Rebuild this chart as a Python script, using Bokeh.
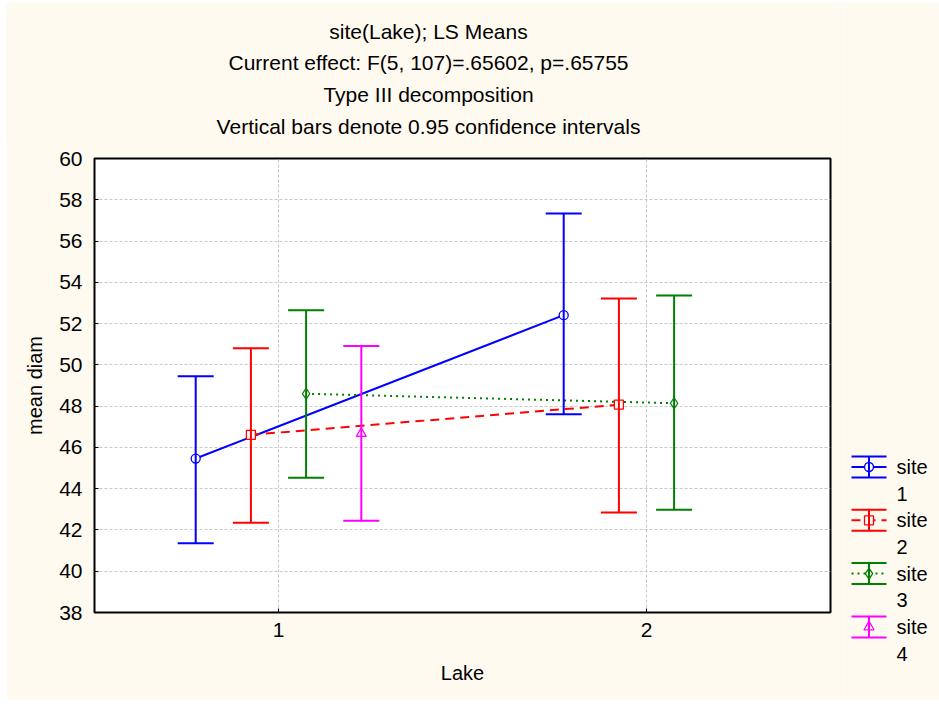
from bokeh.plotting import figure
from bokeh.models import (Range1d, FixedTicker, Whisker, TeeHead, ColumnDataSource)
from bokeh.transform import dodge
from bokeh.core.properties import value
from bokeh.embed import file_html
from bokeh.resources import INLINE

# ---------------- data ----------------
sites = [1, 2, 3, 4]
site_names = ["site", "site", "site", "site"]
site_nums = ["1", "2", "3", "4"]
site1_lake = [1, 2]
site1_mean = [45.46, 52.41]
site1_lower = [41.36, 47.61]
site1_upper = [49.45, 57.33]
site2_lake = [1, 2]
site2_mean = [46.61, 48.07]
site2_lower = [42.35, 42.84]
site2_upper = [50.80, 53.22]
site3_lake = [1, 2]
site3_mean = [48.60, 48.14]
site3_lower = [44.53, 42.98]
site3_upper = [52.65, 53.36]
site4_lake = [1]
site4_mean = [46.67]
site4_lower = [42.45]
site4_upper = [50.91]
x_ticks = [1, 2]
y_ticks = [38, 40, 42, 44, 46, 48, 50, 52, 54, 56, 58, 60]
titles = ["site(Lake); LS Means",
          "Current effect: F(5, 107)=.65602, p=.65755",
          "Type III decomposition",
          "Vertical bars denote 0.95 confidence intervals"]
x_label = "Lake"
y_label = "mean diam"

# ---------------- styles ----------------
FONT = "Liberation Sans"
CREAM = "#FFFAF0"
colors = ["#0000FF", "#FF0000", "#008000", "#FF00FF"]
dashes = ["solid", "9 6", "2 4", None]
markers = ["circle", "square", "diamond", "triangle"]
msizes = [9, 9, 11, 10]
offsets = [-0.225, -0.075, 0.075, 0.225]

# ---------------- main chart ----------------
p = figure(width=838, height=698, output_backend="svg", toolbar_location=None,
           title=None,
           x_range=Range1d(0.5, 2.5), y_range=Range1d(38, 60),
           min_border_left=88, min_border_right=14, min_border_top=156,
           min_border_bottom=88)
p.styles = {"position": "absolute", "left": "6px", "top": "2px"}
p.background_fill_color = "white"
p.border_fill_color = CREAM
p.outline_line_color = "black"
p.outline_line_width = 2

p.xaxis.ticker = FixedTicker(ticks=x_ticks)
p.yaxis.ticker = FixedTicker(ticks=y_ticks)
for ax in (p.xaxis[0], p.yaxis[0]):
    ax.axis_line_color = None
    ax.major_tick_in = 4
    ax.major_tick_out = 0
    ax.major_tick_line_color = "black"
    ax.major_tick_line_width = 1
    ax.minor_tick_line_color = None
    ax.major_label_text_font = FONT
    ax.major_label_text_font_size = "21px"
    ax.major_label_text_color = "black"
    ax.axis_label_text_font = FONT
    ax.axis_label_text_font_size = "20px"
    ax.axis_label_text_font_style = "normal"
    ax.axis_label_text_color = "black"
p.yaxis.major_label_standoff = 12
p.xaxis.major_label_standoff = 10
p.xaxis.axis_label = x_label
p.yaxis.axis_label = y_label
p.xaxis.axis_label_standoff = 22
p.yaxis.axis_label_standoff = 10

p.grid.grid_line_color = "#C8C8C8"
p.grid.grid_line_dash = "3 2"
p.grid.grid_line_width = 1
p.xgrid.ticker = FixedTicker(ticks=x_ticks)
p.ygrid.ticker = FixedTicker(ticks=y_ticks)

data = [
    (site1_lake, site1_mean, site1_lower, site1_upper),
    (site2_lake, site2_mean, site2_lower, site2_upper),
    (site3_lake, site3_mean, site3_lower, site3_upper),
    (site4_lake, site4_mean, site4_lower, site4_upper),
]
srcs = []
for i, (lk, mn, lo, up) in enumerate(data):
    src = ColumnDataSource(dict(lake=lk, mean=mn, lower=lo, upper=up))
    srcs.append(src)
    w = Whisker(source=src, base=dodge("lake", offsets[i], range=p.x_range),
                upper="upper", lower="lower", dimension="height",
                line_color=colors[i], line_width=2, level="glyph",
                upper_head=TeeHead(size=36, line_color=colors[i], line_width=2),
                lower_head=TeeHead(size=36, line_color=colors[i], line_width=2))
    p.add_layout(w)

for i, src in enumerate(srcs):
    if dashes[i] is not None:
        p.line(x=dodge("lake", offsets[i], range=p.x_range), y="mean", source=src,
               line_color=colors[i], line_width=2, line_dash=dashes[i])
for i, src in enumerate(srcs):
    p.scatter(x=dodge("lake", offsets[i], range=p.x_range), y="mean", source=src,
              marker=markers[i], size=msizes[i], fill_color="white",
              line_color=colors[i], line_width=1.3)

# ---------------- title block (four centred lines) ----------------
tt = figure(width=838, height=140, output_backend="svg", toolbar_location=None,
            title=None, x_range=Range1d(0, 838), y_range=Range1d(3.5, -0.9025),
            x_axis_type=None, y_axis_type=None,
            min_border_left=0, min_border_right=0, min_border_top=0, min_border_bottom=0)
tt.styles = {"position": "absolute", "left": "6px", "top": "2px"}
tt.outline_line_color = None
tt.background_fill_color = CREAM
tt.border_fill_color = CREAM
TITLE_X = 422
tt.text(x=[TITLE_X] * len(titles), y=list(range(len(titles))), text=titles,
        text_font=value(FONT), text_font_size="21px", text_align="center",
        text_baseline="middle", text_color="black")

# ---------------- legend panel ----------------
lg = figure(width=95, height=698, output_backend="svg", toolbar_location=None,
            title=None,
            x_range=Range1d(0, 95), y_range=Range1d(5.381, -7.715),
            x_axis_type=None, y_axis_type=None,
            min_border_left=0, min_border_right=0, min_border_top=0, min_border_bottom=0)
lg.styles = {"position": "absolute", "left": "844px", "top": "2px"}
lg.outline_line_color = None
lg.background_fill_color = CREAM
lg.border_fill_color = CREAM

ICON_X = 24.5
HALF = 17.5
CAP = 0.197
for i, s in enumerate(sites):
    lsrc = ColumnDataSource(dict(x=[ICON_X], y=[s], lo=[s - CAP], hi=[s + CAP]))
    lg.add_layout(Whisker(source=lsrc, base="x", upper="hi", lower="lo",
                          dimension="height", line_color=colors[i], line_width=2,
                          level="glyph",
                          upper_head=TeeHead(size=35, line_color=colors[i], line_width=2),
                          lower_head=TeeHead(size=35, line_color=colors[i], line_width=2)))
    if dashes[i] is not None:
        lg.segment(x0=[ICON_X - HALF], x1=[ICON_X + HALF], y0=[s], y1=[s],
                   line_color=colors[i], line_width=2, line_dash=dashes[i])
    lg.scatter(x=[ICON_X], y=[s], marker=markers[i], size=msizes[i],
               fill_color="white", line_color=colors[i], line_width=1.3)

lg.text(x=[52] * 4, y=sites, text=site_names, text_font=value(FONT),
        text_font_size="20px", text_baseline="middle", text_align="left",
        text_color="black")
lg.text(x=[52] * 4, y=[s + 0.5 for s in sites], text=site_nums, text_font=value(FONT),
        text_font_size="20px", text_baseline="middle", text_align="left",
        text_color="black")

open("out.html", "w").write(file_html([p, lg, tt], INLINE))
